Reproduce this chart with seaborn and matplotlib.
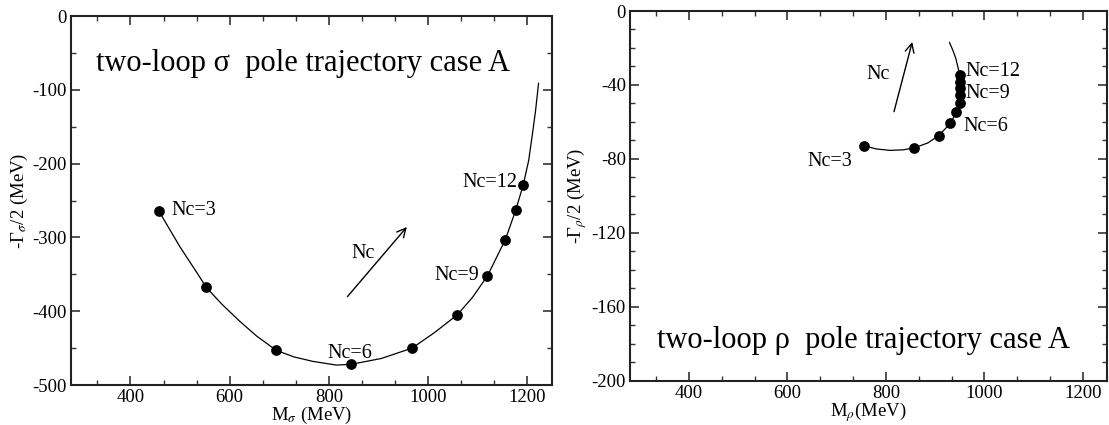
import matplotlib
matplotlib.use("Agg")
import matplotlib.pyplot as plt
from matplotlib.ticker import MultipleLocator
import seaborn as sns

# ---- data: sigma pole trajectory (left) ----
sigma_dot_m = [457, 552, 694, 845, 968, 1059, 1120, 1156, 1177, 1192]
sigma_dot_g = [-264, -367, -453, -472, -450, -405, -352, -303, -263, -229]
sigma_curve_m = [457, 500, 540, 552, 585, 621, 655, 694, 730, 768, 815, 845, 906,
                 968, 1013, 1059, 1090, 1120, 1156, 1177, 1192, 1203, 1210, 1217, 1223]
sigma_curve_g = [-264, -313, -354, -367, -391, -414, -434, -453, -462, -468, -473,
                 -472, -464, -450, -429, -405, -381, -352, -303, -263, -229, -196,
                 -163, -128, -91]
sigma_labels = ["Nc=3", "Nc=6", "Nc=9", "Nc=12"]

# ---- data: rho pole trajectory (right) ----
rho_dot_m = [756, 858, 907, 931, 943, 950, 951, 951, 951, 950]
rho_dot_g = [-72.9, -74.0, -67.5, -60.8, -54.8, -49.6, -45.5, -41.8, -38.3, -34.5]
rho_curve_m = [756, 780, 808, 835, 858, 885, 907, 931, 943, 950, 951, 951, 951,
               950, 946, 942, 936, 929]
rho_curve_g = [-72.9, -74.6, -75.4, -75.1, -74.0, -71.4, -67.5, -60.8, -54.8,
               -49.6, -45.5, -41.8, -38.3, -34.5, -30.0, -25.6, -21.2, -16.9]
rho_labels = ["Nc=3", "Nc=6", "Nc=9", "Nc=12"]

sns.set_style("ticks")
plt.rcParams["font.family"] = ["Liberation Serif", "DejaVu Serif"]
plt.rcParams["mathtext.fontset"] = "stix"
plt.rcParams["axes.unicode_minus"] = False
plt.rcParams["text.color"] = "black"
plt.rcParams["axes.labelcolor"] = "black"
plt.rcParams["xtick.labelcolor"] = "black"
plt.rcParams["ytick.labelcolor"] = "black"

fig = plt.figure(figsize=(11.09, 4.25), dpi=100)
axL = fig.add_axes([0.0640, 0.0941, 0.4337, 0.8682])
axR = fig.add_axes([0.5681, 0.1042, 0.4304, 0.8699])


def style_axis(ax, ymajor, yminor):
    ax.xaxis.set_major_locator(MultipleLocator(200))
    ax.xaxis.set_minor_locator(MultipleLocator(200 / 3))
    ax.yaxis.set_major_locator(MultipleLocator(ymajor))
    ax.yaxis.set_minor_locator(MultipleLocator(yminor))
    ax.tick_params(which="both", direction="in", top=True, right=True,
                   color="#333333", labelsize=13.5, pad=3)
    ax.tick_params(which="major", length=6.5, width=1.2)
    ax.tick_params(which="minor", length=3.6, width=1.0)
    for s in ax.spines.values():
        s.set_linewidth(1.5)
        s.set_color("#222222")
        s.set_visible(True)


# ---------- left ----------
sns.lineplot(x=sigma_curve_m, y=sigma_curve_g, sort=False, estimator=None,
             color="black", lw=0.9, ax=axL)
sns.scatterplot(x=sigma_dot_m, y=sigma_dot_g, color="black", s=60,
                edgecolor="black", linewidth=0, ax=axL, zorder=3)
axL.set_xlim(280, 1250)
axL.set_ylim(-500, 0)
style_axis(axL, 100, 50)
axL.set_xlabel(r"M$_{\sigma}$ (MeV)", fontsize=13.5, labelpad=-1)
axL.set_ylabel(r"-Γ$_{\sigma}$/2 (MeV)", fontsize=13.5, labelpad=2)
axL.text(331, -64, "two-loop σ  pole trajectory case A", fontsize=22,
         ha="left", va="center")
axL.text(482, -264, sigma_labels[0], fontsize=14.5, ha="left", va="center")
axL.text(843, -457, sigma_labels[1], fontsize=14.5, ha="center", va="center")
axL.text(1103, -352, sigma_labels[2], fontsize=14.5, ha="right", va="center")
axL.text(1181, -226, sigma_labels[3], fontsize=14.5, ha="right", va="center")
axL.annotate("", xy=(961, -283), xytext=(834, -383),
             arrowprops=dict(arrowstyle="->", lw=1.0, color="black",
                             mutation_scale=16))
axL.text(870, -322, "Nc", fontsize=14.5, ha="center", va="center")

# ---------- right ----------
sns.lineplot(x=rho_curve_m, y=rho_curve_g, sort=False, estimator=None,
             color="black", lw=0.9, ax=axR)
sns.scatterplot(x=rho_dot_m, y=rho_dot_g, color="black", s=60,
                edgecolor="black", linewidth=0, ax=axR, zorder=3)
axR.set_xlim(280, 1250)
axR.set_ylim(-200, 0)
style_axis(axR, 40, 10)
axR.set_xlabel(r"M$_{\rho}$(MeV)", fontsize=13.5, labelpad=-1)
axR.set_ylabel(r"-Γ$_{\rho}$/2 (MeV)", fontsize=13.5, labelpad=2)
axR.text(334, -178, "two-loop ρ  pole trajectory case A", fontsize=22,
         ha="left", va="center")
axR.text(731, -81.4, rho_labels[0], fontsize=14.5, ha="right", va="center")
axR.text(957, -62.5, rho_labels[1], fontsize=14.5, ha="left", va="center")
axR.text(962, -44.5, rho_labels[2], fontsize=14.5, ha="left", va="center")
axR.text(961, -32.8, rho_labels[3], fontsize=14.5, ha="left", va="center")
axR.annotate("", xy=(855, -15.3), xytext=(815, -55.9),
             arrowprops=dict(arrowstyle="->", lw=1.0, color="black",
                             mutation_scale=16))
axR.text(785, -34.6, "Nc", fontsize=14.5, ha="center", va="center")

fig.savefig("out.png", dpi=100)
